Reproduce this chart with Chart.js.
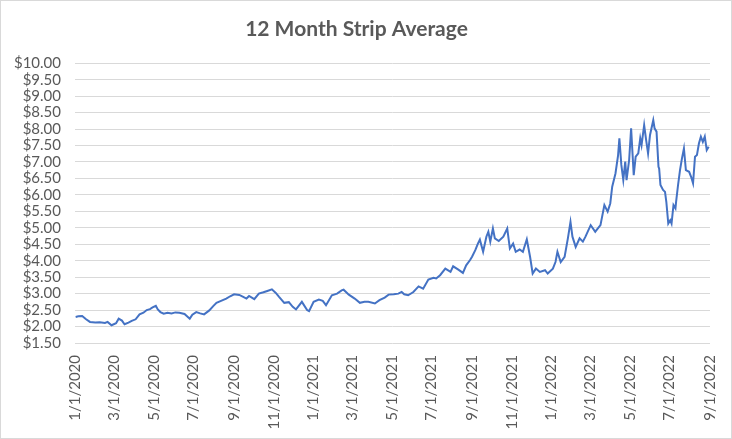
<!DOCTYPE html>
<html>
<head>
<meta charset="utf-8">
<script src="https://cdn.jsdelivr.net/npm/chart.js@4.4.1/dist/chart.umd.min.js"></script>
<style>
  html, body { margin: 0; padding: 0; background: #ffffff; }
  #wrap { width: 732px; height: 439px; position: relative; }
</style>
</head>
<body>
<div id="wrap"><canvas id="c" width="732" height="439"></canvas></div>
<script>
const chartTitle = '12 Month Strip Average';
const tickDates = ['1/1/2020','3/1/2020','5/1/2020','7/1/2020','9/1/2020','11/1/2020',
  '1/1/2021','3/1/2021','5/1/2021','7/1/2021','9/1/2021','11/1/2021',
  '1/1/2022','3/1/2022','5/1/2022','7/1/2022','9/1/2022'];
const dates = [
  '2020-01-02','2020-01-06','2020-01-12','2020-01-18','2020-01-24','2020-02-01','2020-02-08','2020-02-16','2020-02-20','2020-02-26',
  '2020-03-04','2020-03-08','2020-03-13','2020-03-17','2020-03-23','2020-03-28','2020-04-03','2020-04-09','2020-04-15','2020-04-20',
  '2020-04-25','2020-04-29','2020-05-04','2020-05-07','2020-05-11','2020-05-16','2020-05-22','2020-05-28','2020-06-03','2020-06-09',
  '2020-06-17','2020-06-25','2020-06-29','2020-07-05','2020-07-11','2020-07-17','2020-07-25','2020-07-31','2020-08-05','2020-08-12',
  '2020-08-20','2020-08-26','2020-09-01','2020-09-09','2020-09-15','2020-09-20','2020-09-24','2020-10-02','2020-10-09','2020-10-16',
  '2020-10-22','2020-10-29','2020-11-04','2020-11-09','2020-11-17','2020-11-24','2020-11-30','2020-12-05','2020-12-14','2020-12-22',
  '2020-12-25','2021-01-01','2021-01-09','2021-01-15','2021-01-20','2021-01-29','2021-02-06','2021-02-13','2021-02-16','2021-02-24',
  '2021-03-05','2021-03-13','2021-03-20','2021-03-26','2021-04-05','2021-04-12','2021-04-20','2021-04-26','2021-05-04','2021-05-11',
  '2021-05-16','2021-05-20','2021-05-26','2021-06-03','2021-06-11','2021-06-18','2021-06-26','2021-07-04','2021-07-08','2021-07-14',
  '2021-07-22','2021-07-30','2021-08-03','2021-08-11','2021-08-18','2021-08-23','2021-08-29','2021-09-01','2021-09-06','2021-09-10',
  '2021-09-13','2021-09-18','2021-09-23','2021-09-26','2021-09-29','2021-10-03','2021-10-06','2021-10-12','2021-10-19','2021-10-25',
  '2021-10-29','2021-11-03','2021-11-07','2021-11-13','2021-11-18','2021-11-24','2021-11-29','2021-12-03','2021-12-08','2021-12-14',
  '2021-12-22','2021-12-26','2022-01-03','2022-01-07','2022-01-10','2022-01-15','2022-01-21','2022-01-26','2022-01-30','2022-02-02',
  '2022-02-07','2022-02-13','2022-02-18','2022-02-22','2022-03-02','2022-03-09','2022-03-13','2022-03-17','2022-03-23','2022-03-28',
  '2022-04-01','2022-04-04','2022-04-09','2022-04-13','2022-04-15','2022-04-18','2022-04-21','2022-04-24','2022-04-26','2022-04-30',
  '2022-05-03','2022-05-07','2022-05-10','2022-05-14','2022-05-17','2022-05-19','2022-05-23','2022-05-26','2022-05-29','2022-06-01',
  '2022-06-06','2022-06-08','2022-06-11','2022-06-14','2022-06-15','2022-06-17','2022-06-21','2022-06-24','2022-06-26','2022-06-29',
  '2022-07-02','2022-07-04','2022-07-07','2022-07-10','2022-07-11','2022-07-14','2022-07-17','2022-07-20','2022-07-23','2022-07-26',
  '2022-07-31','2022-08-03','2022-08-06','2022-08-09','2022-08-12','2022-08-15','2022-08-18','2022-08-21','2022-08-24','2022-08-27',
  '2022-08-30'
];
const prices = [
  2.29,2.31,2.32,2.22,2.14,2.12,2.13,2.11,2.14,2.04,
  2.10,2.24,2.18,2.07,2.12,2.17,2.22,2.37,2.42,2.50,
  2.53,2.58,2.63,2.52,2.44,2.39,2.42,2.40,2.43,2.42,
  2.38,2.24,2.36,2.44,2.40,2.37,2.49,2.62,2.72,2.78,
  2.85,2.92,2.98,2.96,2.90,2.85,2.93,2.83,3.00,3.04,
  3.08,3.13,3.02,2.90,2.72,2.74,2.60,2.52,2.75,2.50,
  2.47,2.75,2.82,2.78,2.65,2.95,3.00,3.10,3.12,2.97,
  2.85,2.72,2.75,2.75,2.70,2.80,2.88,2.97,2.98,3.00,
  3.05,2.98,2.95,3.05,3.22,3.15,3.43,3.48,3.46,3.56,
  3.76,3.66,3.83,3.73,3.63,3.86,4.02,4.12,4.32,4.52,
  4.64,4.27,4.73,4.88,4.58,4.98,4.68,4.60,4.73,4.98,
  4.37,4.52,4.27,4.34,4.27,4.65,4.12,3.61,3.76,3.66,
  3.71,3.61,3.76,3.96,4.27,3.96,4.12,4.68,5.18,4.73,
  4.42,4.68,4.58,4.73,5.08,4.88,4.98,5.08,5.69,5.49,
  5.74,6.25,6.65,7.20,7.72,6.91,6.45,7.01,6.45,7.06,
  8.02,6.60,7.16,7.26,7.72,7.51,8.12,7.67,7.26,7.82,
  8.27,8.02,7.92,6.85,6.80,6.30,6.15,6.09,5.79,5.13,
  5.23,5.13,5.69,5.59,5.79,6.30,6.75,7.11,7.41,6.75,
  6.70,6.55,6.35,7.16,7.21,7.56,7.77,7.61,7.77,7.36,
  7.46
];

const DAY = 86400000;
const origin = Date.UTC(2020, 0, 1);
function isoToDay(s) {
  const p = s.split('-').map(Number);
  return Math.round((Date.UTC(p[0], p[1] - 1, p[2]) - origin) / DAY);
}
function mdyToDay(s) {
  const p = s.split('/').map(Number);
  return Math.round((Date.UTC(p[2], p[0] - 1, p[1]) - origin) / DAY);
}
const tickDays = tickDates.map(mdyToDay);
const tickLabelMap = {};
tickDates.forEach((t, i) => { tickLabelMap[tickDays[i]] = t; });
const points = dates.map((d, i) => ({ x: isoToDay(d), y: prices[i] }));

const FONT = "Lato, 'Open Sans', sans-serif";
const borderPlugin = {
  id: 'frame',
  beforeDraw(chart) {
    const ctx = chart.ctx;
    ctx.save();
    ctx.fillStyle = '#ffffff';
    ctx.fillRect(0, 0, chart.width, chart.height);
    ctx.strokeStyle = '#d9d9d9';
    ctx.lineWidth = 1;
    ctx.strokeRect(0.5, 0.5, chart.width - 1, chart.height - 1);
    ctx.restore();
  }
};

new Chart(document.getElementById('c'), {
  type: 'line',
  data: {
    datasets: [{
      data: points,
      borderColor: '#4472C4',
      borderWidth: 2,
      pointRadius: 0,
      tension: 0,
      fill: false
    }]
  },
  options: {
    responsive: false,
    animation: false,
    events: [],
    layout: { padding: { left: 0, right: 19, top: 0, bottom: 0 } },
    plugins: {
      legend: { display: false },
      tooltip: { enabled: false },
      title: {
        display: true,
        text: chartTitle,
        color: '#595959',
        font: { family: FONT, size: 21, weight: 'bold' },
        padding: { top: 17, bottom: 21 }
      }
    },
    scales: {
      x: {
        type: 'linear',
        min: tickDays[0],
        max: tickDays[tickDays.length - 1],
        afterBuildTicks(scale) {
          scale.ticks = tickDays.map(v => ({ value: v }));
        },
        afterFit(scale) { scale.height = 96; },
        grid: { display: false },
        border: { display: false },
        ticks: {
          autoSkip: false,
          minRotation: 90,
          maxRotation: 90,
          padding: 4,
          color: '#595959',
          font: { family: FONT, size: 15 },
          callback: (v) => tickLabelMap[v] || ''
        }
      },
      y: {
        min: 1.5,
        max: 10,
        afterFit(scale) { scale.width = 75; },
        grid: { color: '#d9d9d9', lineWidth: 1, drawTicks: false },
        border: { display: false },
        ticks: {
          autoSkip: false,
          stepSize: 0.5,
          padding: 14,
          color: '#595959',
          font: { family: FONT, size: 15 },
          callback: (v) => '$' + Number(v).toFixed(2)
        }
      }
    }
  },
  plugins: [borderPlugin]
});
</script>
</body>
</html>
